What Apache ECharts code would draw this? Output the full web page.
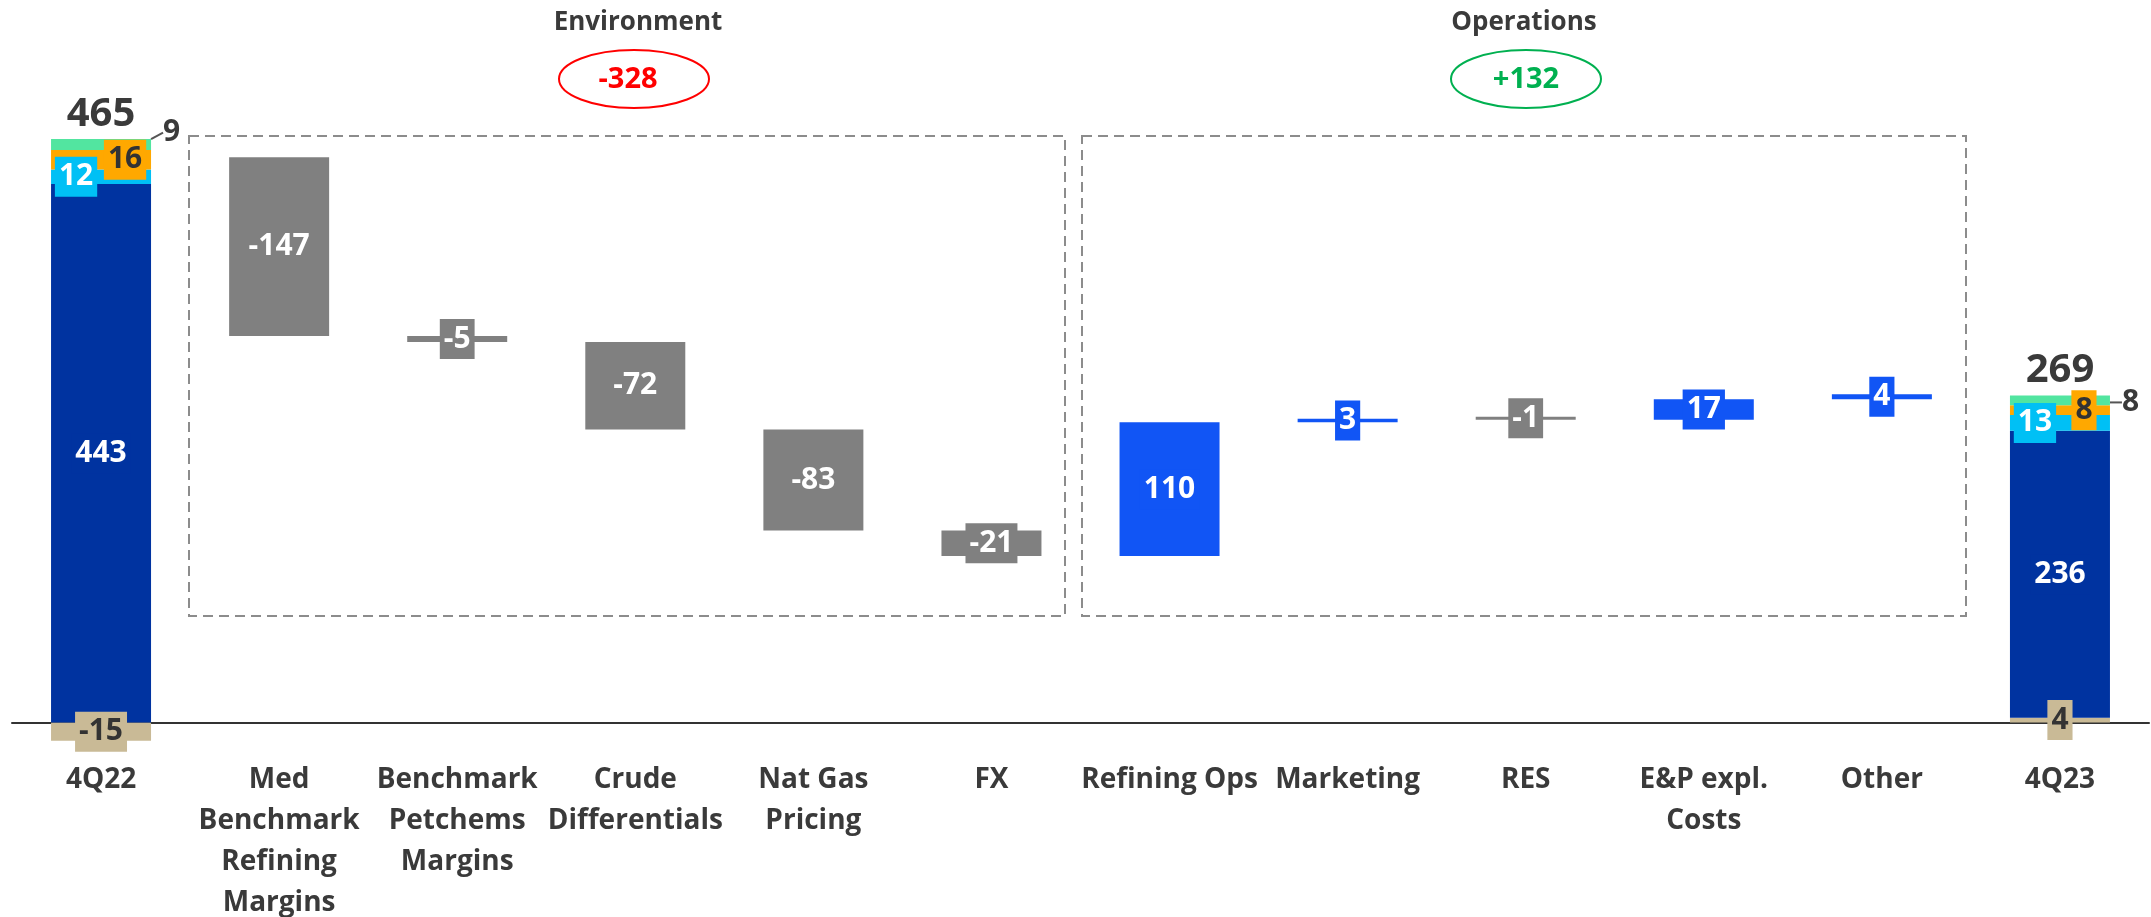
<!DOCTYPE html>
<html>
<head>
<meta charset="utf-8">
<script src="https://cdn.jsdelivr.net/npm/echarts@6/dist/echarts.min.js"></script>
<style>
  html, body { margin: 0; padding: 0; background: #fff; }
  #grafico { width: 2151px; height: 917px; }
</style>
</head>
<body>
<div id="grafico"></div>
<script>
// categorias del eje x
const categorias = [
  "4Q22",
  "Med\nBenchmark\nRefining\nMargins",
  "Benchmark\nPetchems\nMargins",
  "Crude\nDifferentials",
  "Nat Gas\nPricing",
  "FX",
  "Refining Ops",
  "Marketing",
  "RES",
  "E&P expl.\nCosts",
  "Other",
  "4Q23",
];

// barras totales (apiladas)
const tramoBeige = [-15, "-", "-", "-", "-", "-", "-", "-", "-", "-", "-", 4];
const tramoAzul = [443, "-", "-", "-", "-", "-", "-", "-", "-", "-", "-", 236];
const tramoCian = [12, "-", "-", "-", "-", "-", "-", "-", "-", "-", "-", 13];
const tramoNaranja = [16, "-", "-", "-", "-", "-", "-", "-", "-", "-", "-", 8];
const tramoVerde = [9, "-", "-", "-", "-", "-", "-", "-", "-", "-", "-", 8];
const totales = [465, "-", "-", "-", "-", "-", "-", "-", "-", "-", "-", 269];

// variaciones de la cascada
const variaciones = ["-", -147, -5, -72, -83, -21, 110, 3, -1, 17, 4, "-"];

// resúmenes de cada bloque
const resumenEntorno = "-328";
const resumenOperaciones = "+132";

const FUENTE = '"Open Sans", sans-serif';
const GRIS = "#808080";
const AZUL = "#1155f5";
const TEXTO = "#3a3a3a";

// tope de la pila positiva (donde va la etiqueta del total)
const topes = totales.map((t, i) => {
  if (t === "-") return "-";
  return [tramoBeige, tramoAzul, tramoCian, tramoNaranja, tramoVerde]
    .map((s) => s[i])
    .filter((v) => v > 0)
    .reduce((a, b) => a + b, 0);
});

// base invisible y tramo visible de la cascada
let acumulado = totales[0];
const base = [];
const tramo = [];
variaciones.forEach((v) => {
  if (v === "-") {
    base.push("-");
    tramo.push("-");
    return;
  }
  const fin = acumulado + v;
  const color = v < 0 ? GRIS : AZUL;
  base.push(Math.min(acumulado, fin));
  tramo.push({
    value: Math.abs(v),
    itemStyle: { color: color },
    label: { backgroundColor: color },
  });
  acumulado = fin;
});

function etiqueta(color, fondo, dx) {
  return {
    show: true,
    position: "inside",
    offset: [dx, 0],
    color: color,
    backgroundColor: fondo,
    padding: [5, 4],
    fontSize: 30,
    lineHeight: 30,
    fontWeight: "bold",
    fontFamily: FUENTE,
  };
}

function segmento(nombre, datos, color, colorTexto, dx) {
  return {
    name: nombre,
    type: "bar",
    stack: "total",
    barWidth: 100,
    data: datos,
    itemStyle: { color: color },
    label: etiqueta(colorTexto, color, dx),
  };
}

const contenedor = document.getElementById("grafico");
const myChart = echarts.init(contenedor);

var option = {
  animation: false,
  grid: {
    left: 12,
    right: 2,
    top: 54,
    bottom: 158,
    containLabel: false,
    outerBoundsMode: "none",
  },
  xAxis: {
    type: "category",
    data: categorias,
    axisTick: { show: false },
    axisLine: { onZero: true, lineStyle: { color: "#333", width: 2 } },
    axisLabel: {
      interval: 0,
      margin: 1,
      color: TEXTO,
      fontSize: 28,
      lineHeight: 41,
      fontWeight: "bold",
      fontFamily: FUENTE,
    },
  },
  yAxis: {
    type: "value",
    min: -30,
    max: 550,
    show: false,
    splitLine: { show: false },
  },
  series: [
    segmento("Beige", tramoBeige, "#c9ba96", "#333", 0),
    segmento("Azul", tramoAzul, "#0033a0", "#fff", 0),
    segmento("Cian", tramoCian, "#00c0f5", "#fff", -25),
    segmento("Naranja", tramoNaranja, "#ffa800", "#333", 24),
    {
      name: "Verde",
      type: "bar",
      stack: "total",
      barWidth: 100,
      data: tramoVerde,
      itemStyle: { color: "#52e5a0" },
      label: {
        show: true,
        position: "right",
        distance: 12,
        color: TEXTO,
        fontSize: 30,
        fontWeight: "bold",
        fontFamily: FUENTE,
      },
      labelLine: { show: true, lineStyle: { color: "#555", width: 2 } },
      labelLayout: function (p) {
        return p.dataIndex === 0 ? { dy: -12 } : { dy: 2 };
      },
    },
    {
      name: "Base",
      type: "bar",
      stack: "total",
      barWidth: 100,
      data: base,
      itemStyle: { color: "transparent" },
      silent: true,
    },
    {
      name: "Variacion",
      type: "bar",
      stack: "total",
      barWidth: 100,
      barMinHeight: 3,
      data: tramo,
      label: Object.assign(etiqueta("#fff", null, 0), {
        formatter: (p) => variaciones[p.dataIndex],
      }),
    },
    {
      name: "Total",
      type: "scatter",
      data: topes,
      symbolSize: 1,
      itemStyle: { color: "transparent", opacity: 1 },
      label: {
        show: true,
        position: "top",
        distance: 4,
        opacity: 1,
        color: TEXTO,
        fontSize: 40,
        fontWeight: "bold",
        fontFamily: FUENTE,
        formatter: (p) => totales[p.dataIndex],
      },
    },
  ],
  graphic: [
    {
      type: "rect",
      shape: { x: 189, y: 136, width: 876, height: 480 },
      style: { fill: "none", stroke: "#8c8c8c", lineWidth: 2, lineDash: [10, 6] },
    },
    {
      type: "rect",
      shape: { x: 1082, y: 136, width: 884, height: 480 },
      style: { fill: "none", stroke: "#8c8c8c", lineWidth: 2, lineDash: [10, 6] },
    },
    {
      type: "text",
      x: 638,
      y: 23,
      style: {
        text: "Environment",
        align: "center",
        verticalAlign: "middle",
        fill: TEXTO,
        fontSize: 26,
        fontWeight: "bold",
        fontFamily: FUENTE,
      },
    },
    {
      type: "text",
      x: 1524,
      y: 23,
      style: {
        text: "Operations",
        align: "center",
        verticalAlign: "middle",
        fill: TEXTO,
        fontSize: 26,
        fontWeight: "bold",
        fontFamily: FUENTE,
      },
    },
    {
      type: "ellipse",
      shape: { cx: 634, cy: 79, rx: 75, ry: 29 },
      style: { fill: "none", stroke: "#ff0000", lineWidth: 2 },
    },
    {
      type: "ellipse",
      shape: { cx: 1526, cy: 79, rx: 75, ry: 29 },
      style: { fill: "none", stroke: "#00b050", lineWidth: 2 },
    },
    {
      type: "text",
      x: 628,
      y: 80,
      style: {
        text: resumenEntorno,
        align: "center",
        verticalAlign: "middle",
        fill: "#ff0000",
        fontSize: 29,
        fontWeight: "bold",
        fontFamily: FUENTE,
      },
    },
    {
      type: "text",
      x: 1526,
      y: 80,
      style: {
        text: resumenOperaciones,
        align: "center",
        verticalAlign: "middle",
        fill: "#00b050",
        fontSize: 29,
        fontWeight: "bold",
        fontFamily: FUENTE,
      },
    },
  ],
};

myChart.setOption(option);
</script>
</body>
</html>
